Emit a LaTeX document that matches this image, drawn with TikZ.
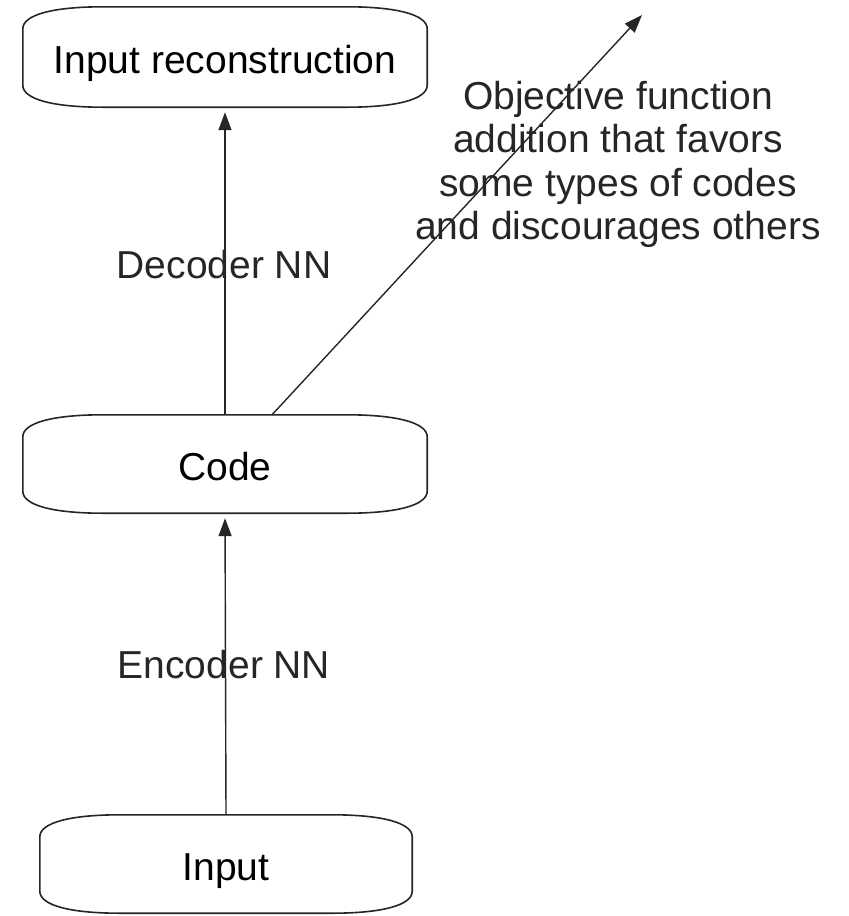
\documentclass[tikz,border=0pt]{standalone}
\usepackage{fontspec}
\setmainfont{Liberation Sans}
\usetikzlibrary{arrows.meta,calc}
\newcommand\bowbox[1]{%
  \draw[outl] let \p1=(#1.north west), \p2=(#1.south east) in
    (\x1,\y1-22pt) .. controls (\x1,\y1-8pt) and (\x1+30pt,\y1) .. (\x1+80pt,\y1)
    -- (\x2-80pt,\y1)
    .. controls (\x2-30pt,\y1) and (\x2,\y1-8pt) .. (\x2,\y1-22pt)
    -- (\x2,\y2+22pt)
    .. controls (\x2,\y2+8pt) and (\x2-30pt,\y2) .. (\x2-80pt,\y2)
    -- (\x1+80pt,\y2)
    .. controls (\x1+30pt,\y2) and (\x1,\y2+8pt) .. (\x1,\y2+22pt)
    -- cycle;}
\tikzset{
  boxnode/.style={draw=none, inner sep=0pt, font=\fontsize{39}{43}\selectfont,
    text height=32pt, text depth=0pt, minimum height=98pt},
  outl/.style={line width=1.6pt, black!85},
  lbl/.style={inner sep=0pt, font=\fontsize{39}{43.5}\selectfont, text=black!85},
  conn/.style={line width=1.4pt, black!85, -{Triangle[length=18pt,width=13pt]}},
}
\begin{document}
\begin{tikzpicture}[x=1pt,y=-1pt]
\useasboundingbox (0,0) rectangle (849,916);
\node[boxnode, minimum width=404pt, minimum height=100pt] (recon) at (225,57) {Input reconstruction};
\node[boxnode, minimum width=404pt] (code) at (225,464) {Code};
\node[boxnode, minimum width=372pt] (input) at (226,864) {Input};
\bowbox{recon}
\bowbox{code}
\bowbox{input}
\coordinate (objtip) at (642,15);
\draw[conn, shorten >=5pt] (input.north) -- (code.south);
\draw[conn, shorten >=5pt] (code.north) -- (recon.south);
\draw[conn] ([xshift=47pt]code.north) -- (objtip);
\node[lbl] (dec) at (224,265) {Decoder NN};
\node[lbl] (enc) at (224,665) {Encoder NN};
\node[lbl, align=center, anchor=north] (obj) at (618,81)
  {Objective function\\addition that favors\\some types of codes\\and discourages others};
\end{tikzpicture}
\end{document}
